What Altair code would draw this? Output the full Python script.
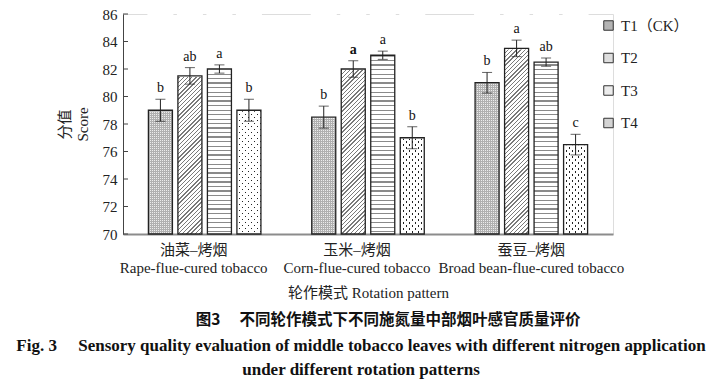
import altair as alt
import pandas as pd

# ---------------- data ----------------
groups_cn = ["油菜–烤烟", "玉米–烤烟", "蚕豆–烤烟"]
groups_en = ["Rape-flue-cured tobacco", "Corn-flue-cured tobacco", "Broad bean-flue-cured tobacco"]
treatments = ["T1（CK）", "T2", "T3", "T4"]
scores = [
    [79.0, 81.5, 82.0, 79.0],
    [78.5, 82.0, 83.0, 77.0],
    [81.0, 83.5, 82.5, 76.5],
]
errors = [
    [0.8, 0.6, 0.3, 0.8],
    [0.8, 0.6, 0.3, 0.8],
    [0.75, 0.6, 0.3, 0.75],
]
letters = [
    ["b", "ab", "a", "b"],
    ["b", "a", "a", "b"],
    ["b", "a", "ab", "c"],
]
bold_letters = [(1, 1)]
y_ticks = [70, 72, 74, 76, 78, 80, 82, 84, 86]
legend_fills = ["#b4b4b4", "#dedede", "#ececec", "#d4d4d4"]

groups = [c + "|" + e for c, e in zip(groups_cn, groups_en)]
rows = []
for gi, g in enumerate(groups):
    for ti, t in enumerate(treatments):
        v = scores[gi][ti]
        e = errors[gi][ti]
        rows.append(dict(grp=g, trt=t, value=v, lo=v - e, hi=v + e,
                         letter=letters[gi][ti], bold=(gi, ti) in bold_letters,
                         base=70, top=86))
df = pd.DataFrame(rows)
ticks_df = pd.DataFrame({"t": y_ticks})

SERIF = "'Liberation Serif', 'Times New Roman', 'Noto Sans CJK SC', serif"
CJK = "'Noto Sans CJK SC', sans-serif"

# ---------------- pattern gradients ----------------
W, H = 24.0, 220.0


def stripe_stops(length, period, thick, line_col, bg_col, phase=0.0):
    stops = [alt.GradientStop(offset=0, color=bg_col)]
    k = 0
    while True:
        a = (phase + k * period) / length
        if a >= 1:
            break
        b = min(a + thick / length, 1.0)
        stops += [alt.GradientStop(offset=a, color=bg_col),
                  alt.GradientStop(offset=a, color=line_col),
                  alt.GradientStop(offset=b, color=line_col),
                  alt.GradientStop(offset=b, color=bg_col)]
        k += 1
    stops.append(alt.GradientStop(offset=1, color=bg_col))
    return stops


c = (W + H) / (W * W + H * H)
TRANSP = "rgba(255,255,255,0)"


def grad_h_lines(period, thick, line, bg):  # horizontal lines
    return alt.LinearGradient(gradient="linear", x1=0, y1=0, x2=0, y2=1,
                              stops=stripe_stops(H, period, thick, line, bg, 1.0))


def grad_v_lines(period, thick, line, bg):  # vertical lines
    return alt.LinearGradient(gradient="linear", x1=0, y1=0, x2=1, y2=0,
                              stops=stripe_stops(W, period, thick, line, bg, 0.5))


def grad_slash(period, thick, line, bg):  # "/" lines
    return alt.LinearGradient(gradient="linear", x1=0, y1=0, x2=c * W, y2=c * H,
                              stops=stripe_stops(W + H, period, thick, line, bg, 1.0))


def grad_backslash(period, thick, line, bg):  # "\" lines
    return alt.LinearGradient(gradient="linear", x1=1, y1=0, x2=1 - c * W, y2=c * H,
                              stops=stripe_stops(W + H, period, thick, line, bg, 1.0))


# ---------------- encodings ----------------
x_enc = alt.X("grp:N", sort=groups,
              scale=alt.Scale(domain=groups, paddingInner=0, paddingOuter=0),
              axis=alt.Axis(title="轮作模式 Rotation pattern",
                            labelExpr="split(datum.label, '|')",
                            labelAngle=0, ticks=False, tickSize=0, labelLimit=400,
                            domainColor="#8c8c8c", domainWidth=2,
                            labelFont=SERIF, labelFontSize=15, labelLineHeight=18,
                            labelPadding=8, labelBaseline="top", labelColor="#222",
                            labelOffset={"condition": {"test": "indexof(datum.value, '蚕豆') < 0", "value": -11},
                                         "value": 0},
                            titleFont=SERIF, titleFontSize=15, titleFontWeight="normal",
                            titleColor="#222", titlePadding=10))
xo_enc = alt.XOffset("trt:N", sort=treatments,
                     scale=alt.Scale(domain=treatments, paddingInner=0.186, paddingOuter=0.861))
y_axis = alt.Axis(title=["分值", "Score"], values=y_ticks, ticks=False, tickSize=0,
                  grid=False, domainColor="#444", domainWidth=1,
                  labelFont=SERIF, labelFontSize=15, labelPadding=6, labelColor="#222",
                  labelFlush=False, labelOverlap=False,
                  titleFont=SERIF, titleFontSize=15, titleFontWeight="normal",
                  titleColor="#222", titleLineHeight=18, titlePadding=12)
y_scale = alt.Scale(domain=[70, 86], nice=False, zero=False)


def Y(field):
    return alt.Y(field, type="quantitative", scale=y_scale, axis=y_axis)


base = alt.Chart(df)


def pattern_layer(trt, fill):
    return base.mark_bar(fill=fill, strokeWidth=0).encode(
        x=x_enc, xOffset=xo_enc, y=Y("top"), y2="base"
    ).transform_filter(alt.datum.trt == trt)


layers = [
    pattern_layer("T1（CK）", grad_v_lines(2, 1, "#b0b0b0", "#ececec")),
    pattern_layer("T1（CK）", grad_h_lines(2, 1, "#b0b0b0", TRANSP)),
    pattern_layer("T2", grad_slash(4.2, 1.4, "#7a7a7a", "#ffffff")),
    pattern_layer("T3", grad_h_lines(4.5, 1.3, "#8a8a8a", "#ffffff")),
    pattern_layer("T4", grad_slash(6, 1.8, "#222222", "#ffffff")),
    pattern_layer("T4", grad_backslash(6, 1.8, TRANSP, "#ffffff")),
]

# white cover above each bar's value (white stroke hides anti-aliased edges)
cover = base.mark_bar(fill="white", stroke="white", strokeWidth=2).encode(
    x=x_enc, xOffset=xo_enc, y=Y("value"), y2="top")

# bar outlines
outline = base.mark_bar(fill="white", fillOpacity=0, stroke="#222", strokeWidth=1.3).encode(
    x=x_enc, xOffset=xo_enc, y=Y("value"), y2="base")

# invisible zero-height bars that carry the legend
legend_layer = base.mark_bar(strokeWidth=0).encode(
    x=x_enc, xOffset=xo_enc, y=Y("base"), y2="base",
    color=alt.Color("trt:N", sort=treatments,
                    scale=alt.Scale(domain=treatments, range=legend_fills),
                    legend=alt.Legend(title=None, orient="none", legendX=478, legendY=4,
                                      symbolType="square", symbolSize=90,
                                      symbolStrokeColor="#333", symbolStrokeWidth=1,
                                      labelFont=SERIF, labelFontSize=15, labelColor="#222",
                                      rowPadding=16.5, labelOffset=5, padding=0)))

err_rule = base.mark_rule(color="#222", strokeWidth=1).encode(
    x=x_enc, xOffset=xo_enc, y=Y("lo"), y2="hi")
cap_hi = base.mark_tick(color="#222", thickness=1, size=10).encode(
    x=x_enc, xOffset=xo_enc, y=Y("hi"))
cap_lo = base.mark_tick(color="#222", thickness=1, size=10).encode(
    x=x_enc, xOffset=xo_enc, y=Y("lo"))

letters_plain = base.mark_text(font=SERIF, fontSize=14, color="#111", fill="#111", dy=-7,
                               baseline="alphabetic").encode(
    x=x_enc, xOffset=xo_enc, y=Y("hi"), text="letter:N"
).transform_filter(alt.datum.bold == False)
letters_bold = base.mark_text(font=SERIF, fontSize=14, fontWeight="bold", color="#111",
                              fill="#111", dy=-7, baseline="alphabetic").encode(
    x=x_enc, xOffset=xo_enc, y=Y("hi"), text="letter:N"
).transform_filter(alt.datum.bold == True)

# inward y-axis ticks
yticks = alt.Chart(ticks_df).mark_rule(color="#444", strokeWidth=1).encode(
    y=Y("t"), x=alt.value(0), x2=alt.value(5))

chart = alt.layer(
    *layers, cover, outline, legend_layer, err_rule, cap_hi, cap_lo,
    letters_plain, letters_bold, yticks
).properties(
    width=490, height=220,
    padding={"left": 115, "top": 6, "right": 101, "bottom": 145},
    autosize=alt.AutoSizeParams(type="none"),
    title=alt.TitleParams(
        text="\u200b\u3000\u3000\u3000\u2002图3\u2003 不同轮作模式下不同施氮量中部烟叶感官质量评价",
        subtitle=["Fig. 3\u2003 Sensory quality evaluation of middle tobacco leaves with different nitrogen application",
                  "under different rotation patterns"],
        orient="bottom", anchor="middle", frame="group", offset=13, dx=-7,
        font=CJK, fontSize=15.5, fontWeight="bold", color="#111",
        subtitleFont="'Liberation Serif', 'Times New Roman', serif", subtitleFontSize=17,
        subtitleFontWeight="bold",
        subtitleColor="#111", subtitleLineHeight=24, subtitlePadding=9,
    ),
).configure_view(stroke=None).configure(background="white")

chart.save("out.html", embed_options={"renderer": "svg", "actions": False})
